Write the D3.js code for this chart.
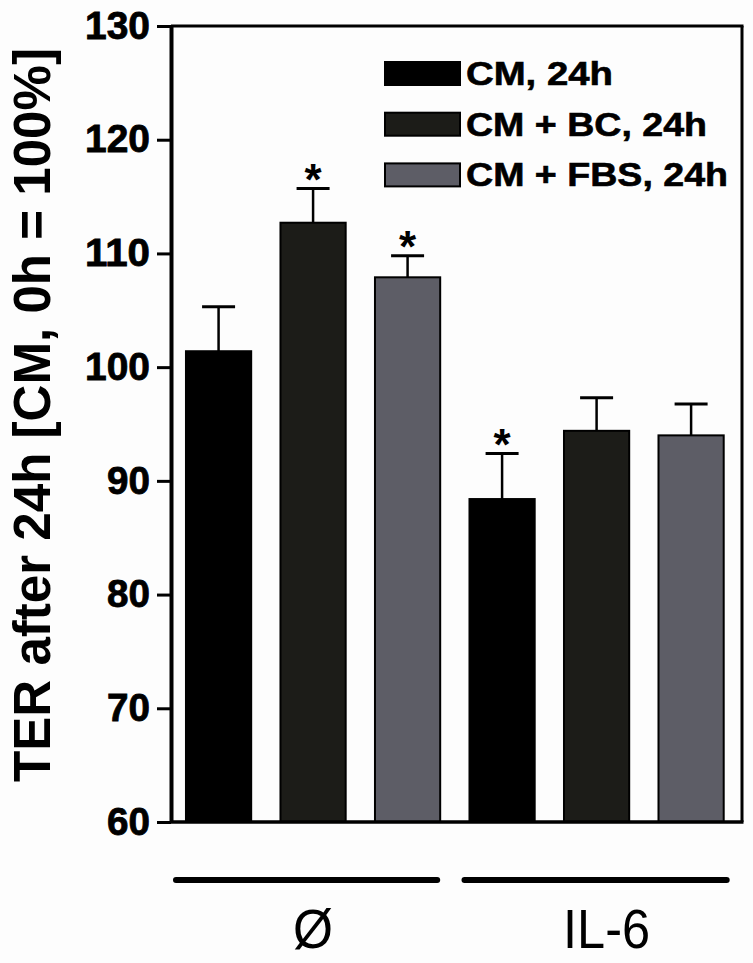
<!DOCTYPE html>
<html>
<head>
<meta charset="utf-8">
<script src="https://cdn.jsdelivr.net/npm/d3@7"></script>
<style>
  body { margin: 0; background: #fdfdfd; }
  svg { display: block; font-family: "Liberation Sans", Arial, sans-serif; }
</style>
</head>
<body>
<script>
const groups = ["Ø", "IL-6"];
const series = ["CM, 24h", "CM + BC, 24h", "CM + FBS, 24h"];
const meansO = [101.4, 112.7, 107.9];
const meansIL6 = [88.4, 94.4, 94.0];
const errO = [3.9, 3.0, 1.9];
const errIL6 = [4.0, 2.9, 2.75];
const starO = [false, true, true];
const starIL6 = [true, false, false];
const yTicks = [60, 70, 80, 90, 100, 110, 120, 130];
const colors = ["#000000", "#1c1c18", "#5d5d66"];

const W = 753, H = 963;
const padL = 171, padR = 742, padT = 26, padB = 822;

const svg = d3.select("body").append("svg").attr("width", W).attr("height", H);

// flat list of bars
let bars = [];
[meansO, meansIL6].forEach((m, gi) => {
    const e = gi == 0 ? errO : errIL6;
    const s = gi == 0 ? starO : starIL6;
    m.forEach((v, si) => {
        bars.push({group: groups[gi], series: si, key: groups[gi] + "|" + si, value: v, err: e[si], star: s[si]});
    });
});

const yScale = d3.scaleLinear().domain([60, 130]).range([padB, padT]);
const xScale = d3.scaleBand()
    .domain(bars.map(d => d.key))
    .range([padL, padR])
    .paddingInner(0.31)
    .paddingOuter(0.176)
    .align(0.45);
const bw = xScale.bandwidth();

// bars
svg.selectAll("rect.bar")
    .data(bars)
    .enter()
    .append("rect")
    .attr("class", "bar")
    .attr("x", d => xScale(d.key))
    .attr("y", d => yScale(d.value))
    .attr("width", bw)
    .attr("height", d => yScale(60) - yScale(d.value))
    .attr("fill", d => colors[d.series])
    .attr("stroke", "#000")
    .attr("stroke-width", 2);

// error bars (upper only)
const eb = svg.selectAll("g.err").data(bars).enter().append("g").attr("class", "err");
eb.append("line")
    .attr("x1", d => xScale(d.key) + bw / 2)
    .attr("x2", d => xScale(d.key) + bw / 2)
    .attr("y1", d => yScale(d.value))
    .attr("y2", d => yScale(d.value + d.err))
    .attr("stroke", "#000").attr("stroke-width", 2.5);
eb.append("line")
    .attr("x1", d => xScale(d.key) + bw / 2 - 16.5)
    .attr("x2", d => xScale(d.key) + bw / 2 + 16.5)
    .attr("y1", d => yScale(d.value + d.err))
    .attr("y2", d => yScale(d.value + d.err))
    .attr("stroke", "#000").attr("stroke-width", 3);

// significance stars
svg.selectAll("text.star")
    .data(bars.filter(d => d.star))
    .enter()
    .append("text")
    .attr("class", "star")
    .attr("x", d => xScale(d.key) + bw / 2)
    .attr("y", d => yScale(d.value + d.err) + 6)
    .attr("text-anchor", "middle")
    .attr("font-size", 44)
    .attr("font-weight", "bold")
    .text("*");

// y axis
const yAxis = d3.axisLeft(yScale).tickValues(yTicks).tickSize(14).tickSizeOuter(0).tickPadding(7);
const gy = svg.append("g").attr("transform", "translate(" + padL + ",0)").call(yAxis);
gy.select(".domain").attr("stroke-width", 4);
gy.selectAll(".tick line").attr("stroke-width", 3);
gy.selectAll(".tick text")
    .attr("font-size", 38)
    .attr("font-weight", "bold")
    .attr("font-family", "Liberation Sans, Arial, sans-serif")
    .attr("fill", "#000")
    .attr("stroke", "#000")
    .attr("stroke-width", 0.8)
    .attr("textLength", d => d >= 100 ? 65 : 43)
    .attr("lengthAdjust", "spacingAndGlyphs");

// frame
svg.append("line").attr("x1", padL).attr("x2", padR + 1.5).attr("y1", padT).attr("y2", padT)
    .attr("stroke", "#000").attr("stroke-width", 3);
svg.append("line").attr("x1", padR).attr("x2", padR).attr("y1", padT).attr("y2", padB)
    .attr("stroke", "#000").attr("stroke-width", 3);
svg.append("line").attr("x1", padL).attr("x2", padR + 1.5).attr("y1", padB).attr("y2", padB)
    .attr("stroke", "#000").attr("stroke-width", 3.5);

// y label
svg.append("text")
    .attr("transform", "translate(50," + 415 + ") rotate(-90)")
    .attr("text-anchor", "middle")
    .attr("font-size", 51)
    .attr("font-weight", "bold")
    .attr("textLength", 734)
    .attr("lengthAdjust", "spacingAndGlyphs")
    .text("TER after 24h [CM, 0h = 100%]");

// group lines and labels
const lineLeftPad = [10, 5], lineRightPad = [-3, 3], labelShift = [0, 10];
groups.forEach((g, gi) => {
    const keys = bars.filter(d => d.group == g).map(d => d.key);
    const gs = xScale(keys[0]), ge = xScale(keys[keys.length - 1]) + bw;
    svg.append("line").attr("x1", gs - lineLeftPad[gi]).attr("x2", ge + lineRightPad[gi])
        .attr("y1", 880).attr("y2", 880)
        .attr("stroke", "#000").attr("stroke-width", 6).attr("stroke-linecap", "round");
    svg.append("text")
        .attr("x", (gs + ge) / 2 + labelShift[gi])
        .attr("y", 948)
        .attr("text-anchor", "middle")
        .attr("font-size", 56)
        .attr("textLength", gi == 0 ? 40 : 87)
        .attr("lengthAdjust", "spacingAndGlyphs")
        .text(g);
});

// legend
const legendLen = [147, 241, 262];
const lg = svg.selectAll("g.legend").data(series).enter().append("g")
    .attr("transform", (d, i) => "translate(385," + (62 + i * 50.7) + ")");
lg.append("rect")
    .attr("width", 75).attr("height", 23)
    .attr("fill", (d, i) => colors[i])
    .attr("stroke", "#000").attr("stroke-width", 2);
lg.append("text")
    .attr("x", 81).attr("y", 23)
    .attr("font-size", 33).attr("font-weight", "bold")
    .attr("stroke", "#000").attr("stroke-width", 0.6)
    .attr("textLength", (d, i) => legendLen[i])
    .attr("lengthAdjust", "spacingAndGlyphs")
    .text(d => d);
</script>
</body>
</html>
